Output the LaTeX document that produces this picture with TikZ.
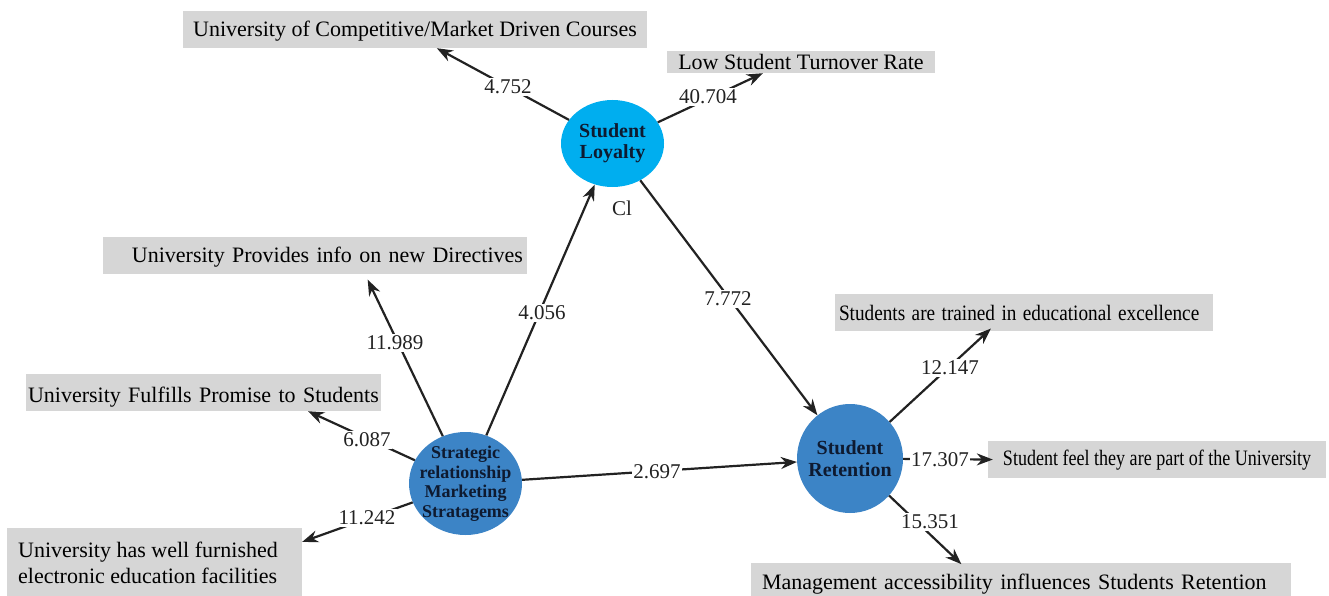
\documentclass[tikz,border=0pt]{standalone}
\usepackage{graphicx}
\usepackage{fontspec}
\setmainfont{Liberation Serif}
\usetikzlibrary{arrows.meta,calc,shapes.geometric}
\definecolor{boxgray}{HTML}{D6D6D6}
\definecolor{loycol}{HTML}{00AEEF}
\definecolor{bluecol}{HTML}{3C84C6}
\definecolor{linecol}{HTML}{222222}
\definecolor{txtcol}{HTML}{0E1A30}
\begin{document}
\begin{tikzpicture}[x=1pt,y=-1pt,
  gbox/.style={fill=boxgray, inner sep=0pt, font=\fontsize{22}{25}\selectfont, text depth=2pt, text=black},
  latent/.style={ellipse, draw=none, inner sep=0pt},
  lvtext/.style={align=center, text=txtcol, inner sep=0pt},
  conn/.style={draw=linecol, line width=2.2pt, -{Stealth[length=16pt,width=12pt]}},
  lbl/.style={fill=white, inner sep=1.5pt, font=\fontsize{21}{21}\selectfont, text=linecol}
]
\useasboundingbox (0,0) rectangle (1329,596);
\fill[white] (0,0) rectangle (1329,596);

% indicator boxes
\node[gbox, minimum width=464pt, minimum height=37pt, text height=16pt] (b1) at (415,29.5) {University of Competitive/Market Driven Courses};
\node[gbox, minimum width=268pt, minimum height=22pt, text height=18pt] (low) at (801,62) {Low Student Turnover Rate};
\node[gbox, minimum width=424pt, minimum height=37pt, text height=16pt, text width=416pt, align=right] (dir) at (315,255.5) {University Provides info on new Directives};
\node[gbox, minimum width=355pt, minimum height=37pt, text height=21pt, text width=351pt, align=left] (ful) at (203.5,392.5) {University Fulfills Promise to Students};
\node[gbox, minimum width=295pt, minimum height=68pt] (furn) at (154.5,562) {};
\node[anchor=west, align=left, inner sep=0pt, font=\fontsize{22}{25.7}\selectfont] (furntxt) at (18,563) {University has well furnished\\electronic education facilities};
\node[gbox, minimum width=378pt, minimum height=37pt, text height=17pt, text width=370pt, align=left] (trn) at (1024,312.5) {\scalebox{0.875}[1]{Students are trained in educational excellence}};
\node[gbox, minimum width=338pt, minimum height=37pt, text height=13pt] (feel) at (1157,459.5) {\scalebox{0.82}[1]{Student feel they are part of the University}};
\node[gbox, minimum width=540pt, minimum height=33pt, text height=21pt, text width=518pt, align=left] (mgt) at (1021,579.5) {Management accessibility influences Students Retention};

% latent variables
\node[latent, fill=loycol, minimum width=103pt, minimum height=87pt] (loy) at (612.5,143.5) {};
\node[lvtext, font=\bfseries\fontsize{20}{21}\selectfont] (loyt) at (loy.center) {Student\\Loyalty};
\node[latent, fill=bluecol, minimum width=113pt, minimum height=103pt] (strat) at (465.5,483.5) {};
\node[lvtext, font=\bfseries\fontsize{18}{19.5}\selectfont] (stratt) at (strat.center) {Strategic\\relationship\\Marketing\\Stratagems};
\node[latent, fill=bluecol, minimum width=106pt, minimum height=109pt] (ret) at (850,458.5) {};
\node[lvtext, font=\bfseries\fontsize{20}{22}\selectfont] (rett) at (ret.center) {Student\\Retention};

\node[font=\fontsize{21}{21}\selectfont, text=linecol, inner sep=0pt] (cl) at (622,208) {Cl};

% connectors
\draw[conn] (loy) -- ($(b1.south west)!0.547!(b1.south east)$);
\draw[conn] (loy) -- ($(low.south west)!0.358!(low.south east)$);
\draw[conn, shorten >=6pt] (strat) -- ($(dir.south west)!0.618!(dir.south east)$);
\draw[conn] (strat) -- (loy);
\draw[conn] (loy) -- (ret);
\draw[conn] (strat) -- (ret);
\draw[conn] (strat) -- ($(ful.south west)!0.794!(ful.south east)$);
\draw[conn] (strat) -- ($(furn.north east)!0.206!(furn.south east)$);
\draw[conn, shorten >=-4pt] (ret) -- ($(trn.south west)!0.405!(trn.south east)$);
\draw[conn, shorten >=-5pt] (ret) -- (feel.west);
\draw[conn, shorten >=-2pt] (ret) -- ($(mgt.north west)!0.387!(mgt.north east)$);

% path coefficients
\node[lbl] (l1) at (508,87) {4.752};
\node[lbl] (l2) at (708,97) {40.704};
\node[lbl] (l3) at (395,343) {11.989};
\node[lbl] (l4) at (542,313) {4.056};
\node[lbl] (l5) at (728,299) {7.772};
\node[lbl] (l6) at (367,440) {6.087};
\node[lbl] (l7) at (367,518) {11.242};
\node[lbl] (l8) at (657,472) {2.697};
\node[lbl] (l9) at (950,368) {12.147};
\node[lbl] (l10) at (940,460) {17.307};
\node[lbl] (l11) at (930,522) {15.351};
\end{tikzpicture}
\end{document}
